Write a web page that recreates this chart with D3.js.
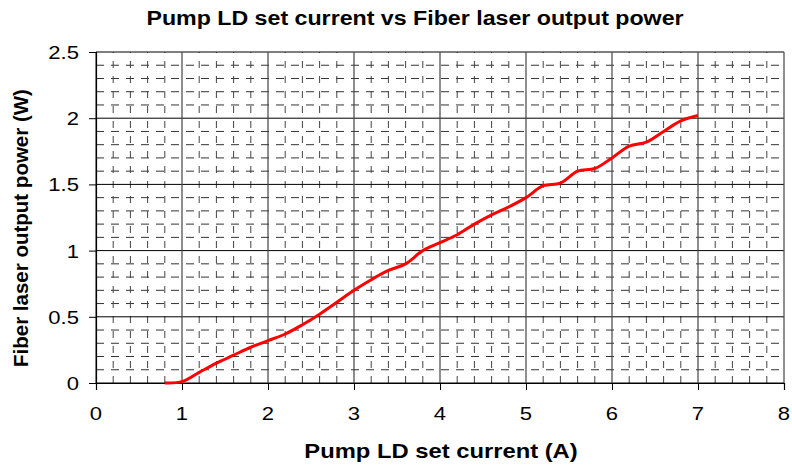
<!DOCTYPE html>
<html>
<head>
<meta charset="utf-8">
<script src="https://cdn.jsdelivr.net/npm/d3@7"></script>
<style>
  body { margin: 0; background: #fff; }
  text { font-family: "Liberation Sans", Arial, sans-serif; fill: #000; }
</style>
</head>
<body>
<svg id="chart" width="792" height="468"></svg>
<script>
// Pump LD set current (A)
const current = [0.8, 1.0, 1.2, 1.4, 1.6, 1.8, 2.0, 2.2, 2.4, 2.6, 2.8, 3.0, 3.2, 3.4, 3.6, 3.8,
                 4.0, 4.2, 4.4, 4.6, 4.8, 5.0, 5.2, 5.4, 5.6, 5.8, 6.0, 6.2, 6.4, 6.6, 6.8, 7.0];
// Fiber laser output power (W)
const power = [0, 0.01, 0.08, 0.15, 0.21, 0.27, 0.32, 0.37, 0.44, 0.52, 0.61, 0.70, 0.78, 0.85, 0.90, 1.00,
               1.06, 1.12, 1.20, 1.27, 1.33, 1.40, 1.49, 1.51, 1.60, 1.62, 1.70, 1.79, 1.82, 1.90, 1.98, 2.02];
const xTicks = [0, 1, 2, 3, 4, 5, 6, 7, 8];
const yTicks = [0, 0.5, 1, 1.5, 2, 2.5];

const svg = d3.select("#chart");
const margin = { left: 96, right: 8, top: 52, bottom: 85 };
const width = 792, height = 468;
const stretch = 1.16; // the original text is a little wider than Liberation Sans

const x = d3.scaleLinear().domain([0, 8]).range([margin.left, width - margin.right]);
const y = d3.scaleLinear().domain([0, 2.5]).range([height - margin.bottom, margin.top]);

// minor dashed grid
const xMinor = d3.range(0, 8.001, 0.2).filter(v => Math.abs(v - Math.round(v)) > 1e-6);
const yMinor = d3.range(0, 2.501, 0.1).filter(v => Math.abs(v * 2 - Math.round(v * 2)) > 1e-6);

svg.append("g").selectAll("line").data(yMinor).join("line")
    .attr("x1", x(0)).attr("x2", x(8))
    .attr("y1", d => y(d)).attr("y2", d => y(d))
    .attr("stroke", "#333").attr("stroke-width", 1)
    .attr("stroke-dasharray", "8,7");

svg.append("g").selectAll("line").data(xMinor).join("line")
    .attr("x1", d => x(d)).attr("x2", d => x(d))
    .attr("y1", y(0)).attr("y2", y(2.5))
    .attr("stroke", "#444").attr("stroke-width", 1)
    .attr("stroke-dasharray", "7,8");

// major solid grid
svg.append("g").selectAll("line").data(yTicks).join("line")
    .attr("x1", x(0)).attr("x2", x(8))
    .attr("y1", d => y(d)).attr("y2", d => y(d))
    .attr("stroke", "#000").attr("stroke-width", 1);

svg.append("g").selectAll("line").data(xTicks).join("line")
    .attr("x1", d => x(d)).attr("x2", d => x(d))
    .attr("y1", y(0)).attr("y2", y(2.5))
    .attr("stroke", "#444").attr("stroke-width", 1.2);

// axes (lines and ticks only, labels drawn below)
const xAxis = svg.append("g")
    .attr("transform", `translate(0,${y(0)})`)
    .call(d3.axisBottom(x).tickValues(xTicks).tickSize(7).tickFormat(""));
const yAxis = svg.append("g")
    .attr("transform", `translate(${x(0)},0)`)
    .call(d3.axisLeft(y).tickValues(yTicks).tickSize(7).tickFormat(""));

[xAxis, yAxis].forEach(a => {
    a.select(".domain").attr("stroke", "#000").attr("stroke-width", 1.2);
    a.selectAll(".tick line").attr("stroke", "#000");
});

// tick labels
svg.append("g").selectAll("text").data(xTicks).join("text")
    .attr("transform", d => `translate(${x(d)},${y(0) + 37}) scale(${stretch},1)`)
    .attr("text-anchor", "middle")
    .style("font-size", "19px")
    .text(d => d);

svg.append("g").selectAll("text").data(yTicks).join("text")
    .attr("transform", d => `translate(79,${y(d) + 7}) scale(${stretch},1)`)
    .attr("text-anchor", "end")
    .style("font-size", "19px")
    .text(d => d);

// curve
const pts = current.map((c, i) => [c, power[i]]);
svg.append("path")
    .datum(pts)
    .attr("fill", "none")
    .attr("stroke", "#ff0000")
    .attr("stroke-width", 3)
    .attr("stroke-linejoin", "round")
    .attr("d", d3.line().x(d => x(d[0])).y(d => y(d[1])).curve(d3.curveCatmullRom));

// titles
svg.append("text")
    .attr("transform", `translate(415,25) scale(${stretch},1)`)
    .attr("text-anchor", "middle")
    .style("font-size", "20px").style("font-weight", "bold")
    .text("Pump LD set current vs Fiber laser output power");

svg.append("text")
    .attr("transform", `translate(441,458) scale(${stretch},1)`)
    .attr("text-anchor", "middle")
    .style("font-size", "20.5px").style("font-weight", "bold")
    .text("Pump LD set current (A)");

svg.append("text")
    .attr("transform", "translate(28,228) rotate(-90)")
    .attr("text-anchor", "middle")
    .style("font-size", "20.5px").style("font-weight", "bold")
    .text("Fiber laser output power (W)");
</script>
</body>
</html>
